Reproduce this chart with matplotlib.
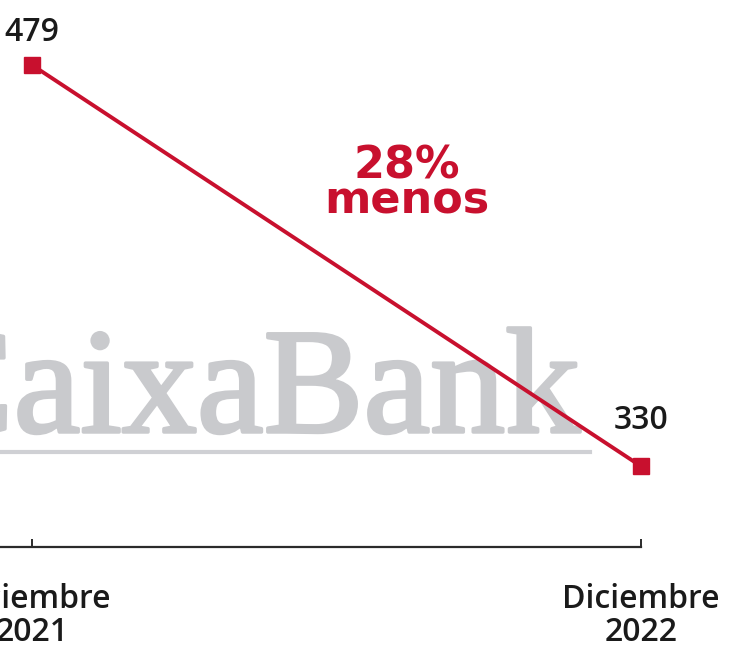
import matplotlib
matplotlib.use("Agg")
import matplotlib.pyplot as plt
from matplotlib.lines import Line2D
import matplotlib.patheffects as pe

# Data
periods = ["Diciembre\n2021", "Diciembre\n2022"]
values = [479, 330]
value_labels = ["479", "330"]
change_text = "28%\nmenos"
watermark = "CaixaBank"

RED = "#c8102e"
DARK = "#2b2b2b"
GRAY = "#c9cacd"
LABEL_FONT = ["Open Sans", "DejaVu Sans"]

W, H = 730, 648
fig = plt.figure(figsize=(W / 100, H / 100), dpi=100)
fig.patch.set_facecolor("white")


def fx(x):
    return x / W


def fy(y):
    return 1 - y / H


# axes: bottom spine at pixel y=547, spanning the full width
ax = fig.add_axes([0, fy(547), 1, 547 / H])
ax.patch.set_alpha(0)
units_per_px = (values[0] - 300) / (547 - 65)
ax.set_ylim(300, 300 + 547 * units_per_px)
x0 = -32 / 609
ax.set_xlim(x0, 1 + 89 / 609)

xs = list(range(len(values)))
ax.plot(xs, values, color=RED, lw=2.8, marker="s", ms=11,
        solid_capstyle="butt", zorder=3, clip_on=False)

for x, v, lab, off in zip(xs, values, value_labels, [17, 27]):
    ax.annotate(lab, (x, v), xytext=(0, off), textcoords="offset points",
                ha="center", va="baseline", fontsize=23, color="#1a1a1a",
                family=LABEL_FONT, fontweight="semibold")

# watermark (logo-like text behind the line)
ax.text(fx(580), fy(432), watermark, transform=fig.transFigure,
        ha="right", va="baseline", fontsize=108, color=GRAY,
        family="Liberation Serif", zorder=1,
        path_effects=[pe.withStroke(linewidth=2.5, foreground=GRAY)])
ax.add_artist(Line2D([0, fx(590)], [fy(452), fy(452)], transform=fig.transFigure,
                     color="#cfd0d4", lw=3, zorder=1))

# annotation (last line baseline)
ax.text(fx(407), fy(213), change_text, transform=fig.transFigure,
        ha="center", va="baseline", multialignment="center", linespacing=0.74,
        fontsize=32, fontweight="bold", color=RED, family="DejaVu Sans")

# axis styling
for s in ["top", "right", "left"]:
    ax.spines[s].set_visible(False)
ax.spines["bottom"].set_bounds(x0, 1)
ax.spines["bottom"].set_color(DARK)
ax.spines["bottom"].set_linewidth(1.6)
ax.set_yticks([])
ax.set_xticks(xs)
ax.set_xticklabels(periods, fontsize=23, color="#1a1a1a", family=LABEL_FONT,
                   fontweight="semibold", linespacing=1.0)
ax.tick_params(axis="x", direction="in", length=6, width=1.4, color=DARK, pad=26)

fig.savefig("out.png", dpi=100, facecolor="white")
